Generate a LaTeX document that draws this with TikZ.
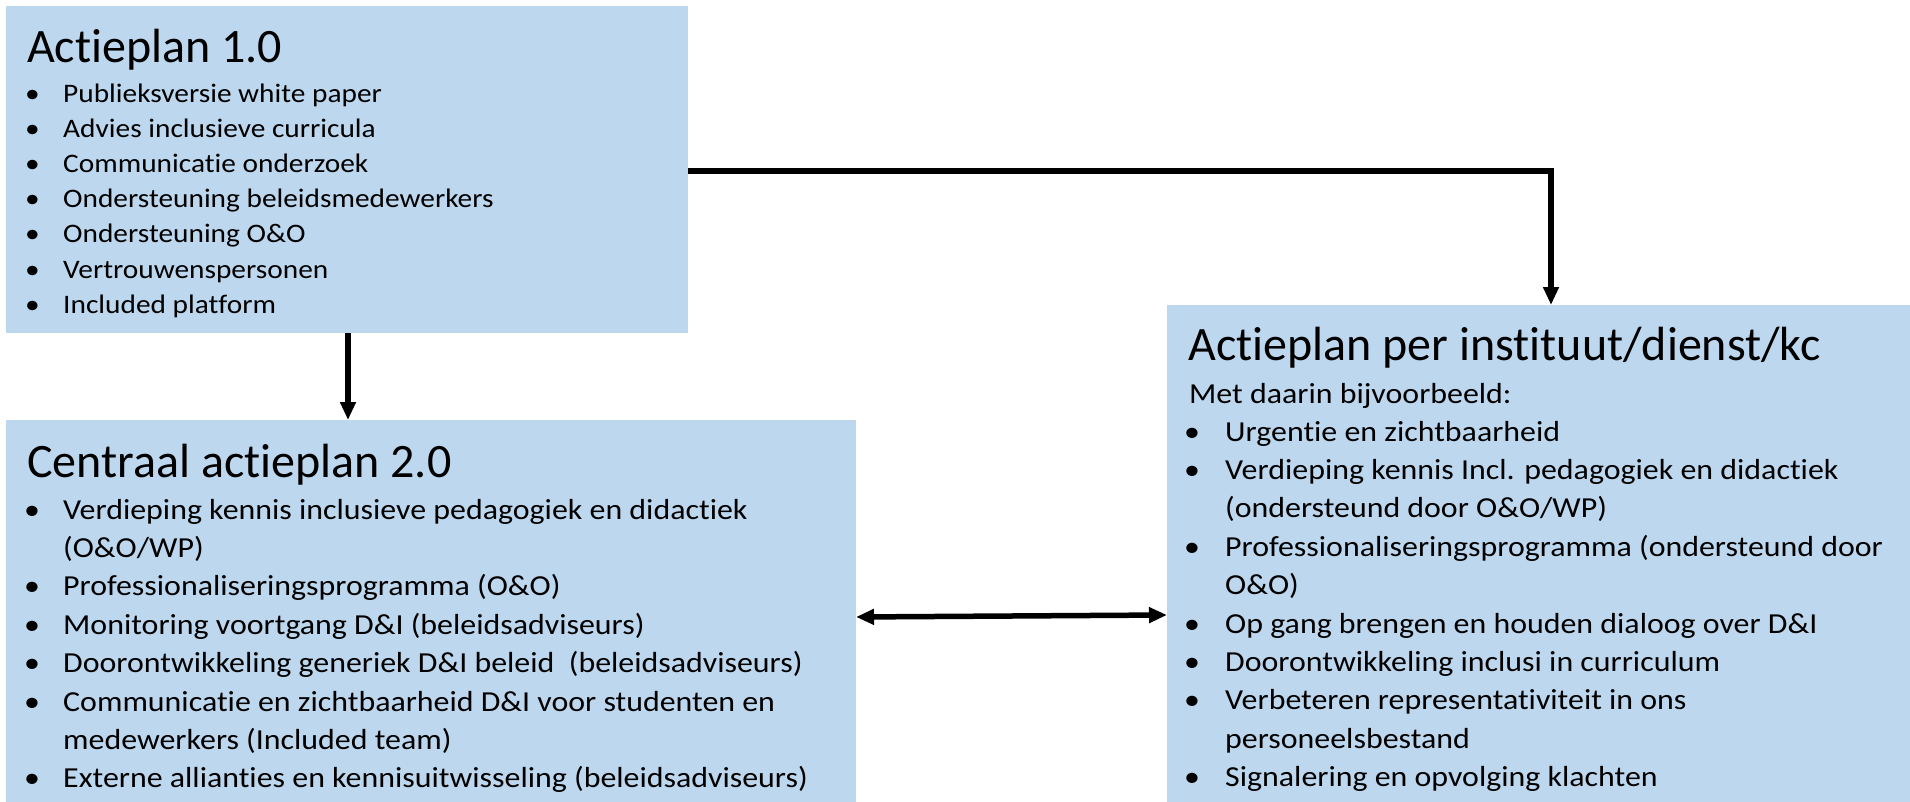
\documentclass[tikz,border=0pt]{standalone}
\usepackage{fontspec}
\setmainfont{Carlito}[Ligatures=NoCommon]
\newfontfamily\itemfont{Carlito}[FakeStretch=1.1,Ligatures=NoCommon]
\usetikzlibrary{arrows.meta,positioning,calc}
\definecolor{planblue}{HTML}{BDD7EE}
\tikzset{
    every picture/.style={line join=miter},
    planbox/.style={fill=planblue,inner sep=0pt,outer sep=0pt,anchor=north west},
    plantitle/.style={anchor=base west,inner sep=0pt,font=\fontsize{48}{56}\selectfont},
    planitem/.style={anchor=base west,inner sep=0pt,font=\itemfont\fontsize{29}{35}\selectfont},
    smallitem/.style={planitem,font=\itemfont\fontsize{26.7}{33}\selectfont},
    flowarrow/.style={-{Triangle[length=18pt,width=15pt]},line width=5.5pt},
    duoarrow/.style={{Triangle[length=18pt,width=15pt]}-{Triangle[length=18pt,width=15pt]},
      line width=5.5pt}
}

\begin{document}
\begin{tikzpicture}[x=1pt,y=-1pt]
  \useasboundingbox (0,0) rectangle (1910,802);
  \node[planbox,minimum width=682pt,minimum height=327pt] (plan1) at (6,6) {};
  \node[planbox,minimum width=850pt,minimum height=382pt] (plan2) at (6,420) {};
  \node[planbox,minimum width=743pt,minimum height=497pt] (plan3) at (1167,305) {};

  % Actieplan 1.0
  \node[plantitle] (t1) at (27,63) {Actieplan 1.0};
  \foreach \txt [count=\i] in {Publieksversie white paper,Advies inclusieve curricula,
      Communicatie onderzoek,Ondersteuning beleidsmedewerkers,Ondersteuning O\&O,
      Vertrouwenspersonen,Included platform}{
    \node[smallitem] (p1b\i) at (25,{103+35*(\i-1)}) {\textbullet};
    \node[smallitem] (p1l\i) at (63,{103+35*(\i-1)}) {\txt};
  }

  % Centraal actieplan 2.0
  \node[plantitle] (t2) at (27,477) {Centraal actieplan 2.0};
  \foreach \b/\txt [count=\i] in {1/{Verdieping kennis inclusieve pedagogiek en didactiek},
      0/{(O\&O/WP)},1/{Professionaliseringsprogramma (O\&O)},
      1/{Monitoring voortgang D\&I (beleidsadviseurs)},
      1/{Doorontwikkeling generiek D\&I beleid\ \ (beleidsadviseurs)},
      1/{Communicatie en zichtbaarheid D\&I voor studenten en},
      0/{medewerkers (Included team)},
      1/{Externe allianties en kennisuitwisseling (beleidsadviseurs)}}{
    \ifnum\b=1 \node[planitem] (p2b\i) at (24,{519+38.4*(\i-1)}) {\textbullet};\fi
    \node[planitem] (p2l\i) at (63,{519+38.4*(\i-1)}) {\txt};
  }

  % Actieplan per instituut
  \node[plantitle] (t3) at (1188,360) {Actieplan per instituut/dienst/kc};
  \node[planitem] (m3) at (1189,403) {Met daarin bijvoorbeeld:};
  \foreach \b/\txt [count=\i] in {1/{Urgentie en zichtbaarheid},
      1/{Verdieping kennis Incl. pedagogiek en didactiek},
      0/{(ondersteund door O\&O/WP)},
      1/{Professionaliseringsprogramma (ondersteund door},0/{O\&O)},
      1/{Op gang brengen en houden dialoog over D\&I},
      1/{Doorontwikkeling inclusi in curriculum},
      1/{Verbeteren representativiteit in ons},0/{personeelsbestand},
      1/{Signalering en opvolging klachten}}{
    \ifnum\b=1 \node[planitem] (p3b\i) at (1184,{441+38.4*(\i-1)}) {\textbullet};\fi
    \node[planitem] (p3l\i) at (1225,{441+38.4*(\i-1)}) {\txt};
  }

  % connectors
  \coordinate (drop) at (348,0);
  \coordinate (bend) at (1551,171);
  \draw[flowarrow] (drop |- plan1.south) -- (drop |- plan2.north);
  \draw[flowarrow] (plan1.east |- bend) -| (plan3.north -| bend);
  \draw[duoarrow] ($(plan2.east)+(0,6)$) -- ($(plan3.west)+(0,61.5)$);
\end{tikzpicture}
\end{document}
